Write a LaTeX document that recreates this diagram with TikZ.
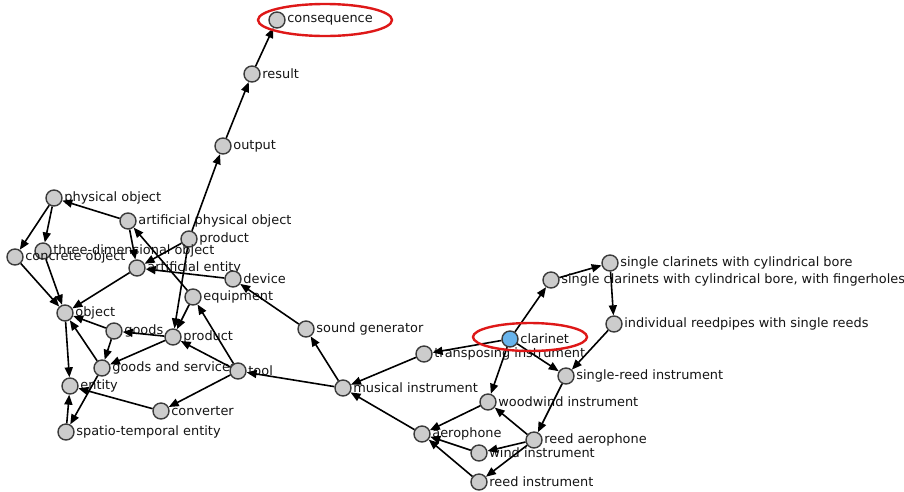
\documentclass[tikz,border=0pt]{standalone}
\usepackage{fontspec}
\setmainfont{DejaVu Sans}
\usetikzlibrary{arrows.meta}
\definecolor{nodefill}{RGB}{204,204,204}
\definecolor{nodeline}{RGB}{60,60,60}
\definecolor{queryfill}{RGB}{104,180,236}
\definecolor{markred}{RGB}{222,24,24}
\newcommand\conceptfont{\fontsize{12.9}{14}\selectfont}
\tikzset{
        ->, % makes the edges directed
        >={Triangle[length=10pt,width=8pt]}, % filled heads like the plot
        concept/.style={circle, draw=nodeline, fill=nodefill, line width=1.4pt,
            minimum size=16pt, inner sep=0pt,
            label={[label distance=0pt, inner sep=1.5pt, font=\conceptfont, text=black!92]right:#1}}, % sets properties for each node
        query/.style={concept=#1, fill=queryfill}, % the word that was looked up
        link/.style={line width=1.6pt, black}, % hypernym edges
        highlight/.style={-, draw=markred, line width=2.4pt}, % red rings
    }
\begin{document}
\begin{tikzpicture}[x=1pt, y=-1pt]
    \useasboundingbox (0,0) rectangle (904,491);
    % upper chain
    \node[concept=consequence] (cons) at (277,20) {};
    \node[concept=result] (res) at (252,74) {};
    \node[concept=output] (outp) at (223,146) {};
    % object side
    \node[concept=physical object] (physobj) at (54,198) {};
    \node[concept=artificial physical object] (artphys) at (128,221) {};
    \node[concept=product] (prodA) at (189,239) {};
    \node[concept=three-dimensional object] (threed) at (43,251) {};
    \node[concept=concrete object] (concr) at (15,257) {};
    \node[concept=artificial entity] (artent) at (137,268) {};
    \node[concept=device] (device) at (233,279) {};
    \node[concept=equipment] (equip) at (193,297) {};
    \node[concept=object] (object) at (65,313) {};
    \node[concept=goods] (goods) at (114,331) {};
    \node[concept=product] (prodB) at (173,337) {};
    \node[concept=goods and services] (gands) at (102,368) {};
    \node[concept=tool] (tool) at (238,371) {};
    \node[concept=entity] (entity) at (70,386) {};
    \node[concept=converter] (conv) at (161,411) {};
    \node[concept=spatio-temporal entity] (spatio) at (66,432) {};
    % instrument side
    \node[concept=sound generator] (soundgen) at (306,329) {};
    \node[concept=musical instrument] (musinst) at (343,388) {};
    \node[concept=transposing instrument] (transp) at (424,354) {};
    \node[query=clarinet] (clarinet) at (510,339) {};
    \node[concept={single clarinets with cylindrical bore, with fingerholes}] (fingerh) at (551,280) {};
    \node[concept=single clarinets with cylindrical bore] (cylbore) at (610,263) {};
    \node[concept=individual reedpipes with single reeds] (reedpipes) at (614,324) {};
    \node[concept=single-reed instrument] (singlereed) at (566,376) {};
    \node[concept=woodwind instrument] (woodwind) at (488,402) {};
    \node[concept=aerophone] (aeroph) at (422,434) {};
    \node[concept=reed aerophone] (reedaero) at (534,440) {};
    \node[concept=wind instrument] (windinst) at (479,453) {};
    \node[concept=reed instrument] (reedinst) at (479,482) {};

    \draw[link]
      (res) edge (cons)
      (outp) edge (res)
      (prodA) edge (outp)
      (prodA) edge (artent)
      (prodA) edge (prodB)
      (artphys) edge (physobj)
      (artphys) edge (artent)
      (equip) edge (artphys)
      (device) edge (artent)
      (physobj) edge (concr)
      (physobj) edge (threed)
      (concr) edge (object)
      (threed) edge (object)
      (artent) edge (object)
      (object) edge (entity)
      (goods) edge (object)
      (goods) edge (gands)
      (gands) edge (object)
      (gands) edge (spatio)
      (prodB) edge (gands)
      (prodB) edge (goods)
      (equip) edge (prodB)
      (tool) edge (prodB)
      (tool) edge (equip)
      (tool) edge (conv)
      (conv) edge (entity)
      (spatio) edge (entity)
      (musinst) edge (tool)
      (musinst) edge (soundgen)
      (soundgen) edge (device)
      (transp) edge (musinst)
      (aeroph) edge (musinst)
      (clarinet) edge (transp)
      (clarinet) edge (fingerh)
      (fingerh) edge (cylbore)
      (cylbore) edge (reedpipes)
      (reedpipes) edge (singlereed)
      (clarinet) edge (singlereed)
      (clarinet) edge (woodwind)
      (singlereed) edge (reedaero)
      (reedaero) edge (woodwind)
      (reedaero) edge (windinst)
      (reedaero) edge (reedinst)
      (woodwind) edge (aeroph)
      (windinst) edge (aeroph)
      (reedinst) edge (aeroph);

    % red rings round the two ends
    \draw[highlight] (325,20) ellipse [x radius=67pt, y radius=16pt];
    \draw[highlight] (530,337) ellipse [x radius=57pt, y radius=14pt];
\end{tikzpicture}
\end{document}
